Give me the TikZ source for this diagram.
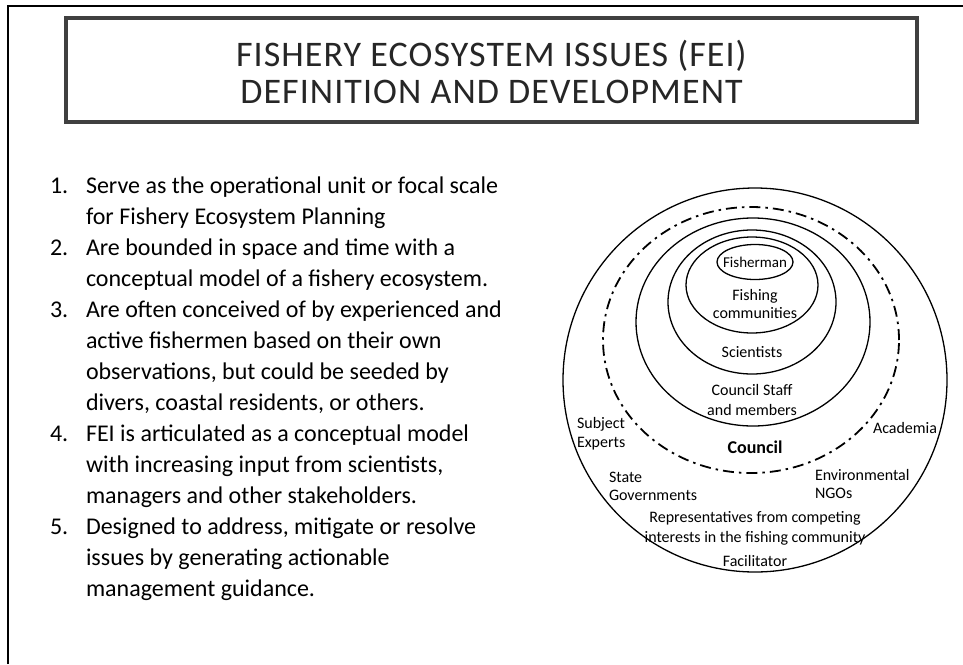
\documentclass[tikz,border=0pt]{standalone}
\usepackage{fontspec}
\setmainfont{Carlito}
\newfontfamily\titlefont[LetterSpace=3]{Carlito}
\definecolor{titlegray}{HTML}{404040}
\definecolor{titleink}{HTML}{262626}
\begin{document}
\begin{tikzpicture}[x=1pt,y=-1pt,
  every node/.style={inner sep=0pt, outer sep=0pt},
  ttl/.style={anchor=base, text=titleink, font=\titlefont\fontsize{36pt}{37pt}\selectfont},
  lst/.style={anchor=base west, font=\fontsize{24pt}{31pt}\selectfont},
  lbl/.style={anchor=base, font=\fontsize{16pt}{19pt}\selectfont},
  lblw/.style={anchor=base west, font=\fontsize{16pt}{19pt}\selectfont},
  ring/.style={draw=black, line width=1.3pt},
  dashring/.style={draw=black, line width=1.8pt, dash pattern=on 11pt off 5pt on 2.5pt off 5pt},
]
\useasboundingbox (0,0) rectangle (963,664);
\fill[white] (0,0) rectangle (963,664);
\coordinate (fbl) at (8,664);
\coordinate (ftl) at (8,6);
\coordinate (ftr) at (963,6);
\draw[line width=1.6pt] (fbl) -- (ftl) -- (ftr);
\node[draw=titlegray, line width=4pt, minimum width=851pt, minimum height=104pt] (titlebox) at (491.5,70) {};
\node[ttl] (t1) at (491.5,66) {FISHERY ECOSYSTEM ISSUES (FEI)};
\node[ttl] (t2) at (491.5,103) {DEFINITION AND DEVELOPMENT};
% list
\node[lst] (n1) at (50,193) {1.};
\node[lst] (l0) at (86,193) {Serve as the operational unit or focal scale};
\node[lst] (l1) at (86,224) {for Fishery Ecosystem Planning};
\node[lst] (n2) at (50,255) {2.};
\node[lst] (l2) at (86,255) {Are bounded in space and time with a};
\node[lst] (l3) at (86,286) {conceptual model of a fishery ecosystem.};
\node[lst] (n3) at (50,317) {3.};
\node[lst] (l4) at (86,317) {Are often conceived of by experienced and};
\node[lst] (l5) at (86,348) {active fishermen based on their own};
\node[lst] (l6) at (86,379) {observations, but could be seeded by};
\node[lst] (l7) at (86,410) {divers, coastal residents, or others.};
\node[lst] (n4) at (50,441) {4.};
\node[lst] (l8) at (86,441) {FEI is articulated as a conceptual model};
\node[lst] (l9) at (86,472) {with increasing input from scientists,};
\node[lst] (l10) at (86,503) {managers and other stakeholders.};
\node[lst] (n5) at (50,534) {5.};
\node[lst] (l11) at (86,534) {Designed to address, mitigate or resolve};
\node[lst] (l12) at (86,565) {issues by generating actionable};
\node[lst] (l13) at (86,596) {management guidance.};
% rings
\coordinate (cOuter) at (755,380);
\coordinate (cDash) at (751,340);
\coordinate (cStaff) at (753,322);
\coordinate (cSci) at (752,302);
\coordinate (cComm) at (752,285);
\coordinate (cFish) at (755,262);
\draw[ring] (cOuter) ellipse [x radius=192pt, y radius=192pt];
\draw[dashring] (cDash) ellipse [x radius=148pt, y radius=133pt];
\draw[ring] (cStaff) ellipse [x radius=117pt, y radius=104pt];
\draw[ring] (cSci) ellipse [x radius=84pt, y radius=72pt];
\draw[ring] (cComm) ellipse [x radius=66pt, y radius=48pt];
\draw[ring] (cFish) ellipse [x radius=38pt, y radius=17.5pt];
% labels
\node[lbl, font=\fontsize{15pt}{18pt}\selectfont] (fisherman) at (755,267) {Fisherman};
\node[lbl] (fishing) at (755,300) {Fishing};
\node[lbl] (communities) at (755,318) {communities};
\node[lbl] (scientists) at (752,357) {Scientists};
\node[lbl] (staff1) at (752,395) {Council Staff};
\node[lbl] (staff2) at (752,415) {and members};
\node[lblw] (subj1) at (577,428) {Subject};
\node[lblw] (subj2) at (577,447) {Experts};
\node[lbl, font=\bfseries\fontsize{18pt}{20pt}\selectfont] (council) at (755,453) {Council};
\node[lblw] (academia) at (873,433) {Academia};
\node[lblw] (state1) at (609,482) {State};
\node[lblw] (state2) at (609,500) {Governments};
\node[lblw] (env1) at (815,480) {Environmental};
\node[lblw] (env2) at (815,498) {NGOs};
\node[lbl] (rep1) at (755,522) {Representatives from competing};
\node[lbl] (rep2) at (755,542) {interests in the fishing community};
\node[lbl] (facil) at (755,566) {Facilitator};
\end{tikzpicture}
\end{document}
